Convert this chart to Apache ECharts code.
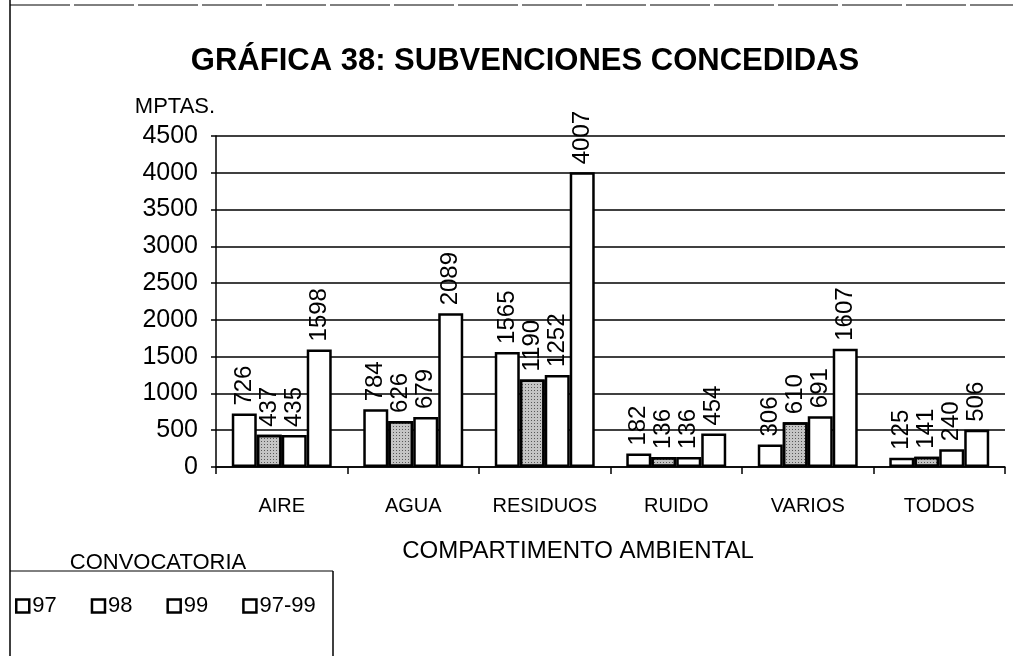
<!DOCTYPE html>
<html>
<head>
<meta charset="utf-8">
<script src="https://cdn.jsdelivr.net/npm/echarts@6/dist/echarts.min.js"></script>
<style>
  html, body { margin: 0; padding: 0; background: #fff; }
  #chart { width: 1013px; height: 656px; }
</style>
</head>
<body>
<div id="chart"></div>
<script>
// Categories (environmental compartment) and the grant totals per call, in MPTAS.
const categories = ['AIRE', 'AGUA', 'RESIDUOS', 'RUIDO', 'VARIOS', 'TODOS'];
const seriesNames = ['97', '98', '99', '97-99'];
const values97 = [726, 784, 1565, 182, 306, 125];
const values98 = [437, 626, 1190, 136, 610, 141];
const values99 = [435, 679, 1252, 136, 691, 240];
const values9799 = [1598, 2089, 4007, 454, 1607, 506];
const yTicks = { min: 0, max: 4500, interval: 500 };

const FONT = '"Liberation Sans", Arial, sans-serif';

const seriesData = [values97, values98, values99, values9799];

function makeSeries(name, data, idx) {
  const itemStyle = {
    color: '#ffffff',
    borderColor: '#000000',
    borderWidth: 2.5
  };
  if (idx === 1) {
    // stippled fill for the 98 call
    itemStyle.color = '#c4c4c4';
    itemStyle.decal = {
      symbol: 'rect',
      symbolSize: 1,
      dashArrayX: [1, 2],
      dashArrayY: [1, 2],
      color: 'rgba(0,0,0,0.55)'
    };
  }
  return {
    name: name,
    type: 'bar',
    data: data,
    barGap: '0%',
    barCategoryGap: '24%',
    itemStyle: itemStyle,
    label: {
      show: true,
      position: 'top',
      rotate: 90,
      align: 'left',
      verticalAlign: 'middle',
      distance: 8,
      color: '#000',
      fontFamily: FONT,
      fontSize: 24
    }
  };
}

const chart = echarts.init(document.getElementById('chart'), null, { renderer: 'canvas' });

chart.setOption({
  backgroundColor: '#ffffff',
  animation: false,
  title: {
    text: 'GRÁFICA 38: SUBVENCIONES CONCEDIDAS',
    left: 520,
    textAlign: 'center',
    top: 41,
    textStyle: { fontFamily: FONT, fontWeight: 'bold', fontSize: 31, color: '#000' }
  },
  grid: { left: 216, right: 8, top: 136, bottom: 189 },
  legend: {
    left: 10,
    top: 590,
    itemWidth: 13,
    itemHeight: 13,
    itemGap: 34,
    icon: 'rect',
    textStyle: { fontFamily: FONT, fontSize: 22, color: '#000', padding: [0, 0, 0, -2] },
    data: seriesNames.map(n => ({
      name: n,
      itemStyle: { color: '#fff', borderColor: '#000', borderWidth: 2.5, decal: 'none' }
    }))
  },
  xAxis: {
    type: 'category',
    data: categories,
    axisLine: { lineStyle: { color: '#000', width: 1.5 } },
    axisTick: { show: true, length: 7, lineStyle: { color: '#000', width: 1.5 } },
    axisLabel: { interval: 0, fontFamily: FONT, fontSize: 20, color: '#000', margin: 29 }
  },
  yAxis: {
    type: 'value',
    min: yTicks.min,
    max: yTicks.max,
    interval: yTicks.interval,
    name: 'MPTAS.',
    nameLocation: 'end',
    nameGap: 18,
    nameTextStyle: { fontFamily: FONT, fontSize: 22, color: '#000', align: 'center', padding: [0, 0, 0, -82] },
    axisLine: { show: true, lineStyle: { color: '#000', width: 1.5 } },
    axisTick: { show: true, length: 5, lineStyle: { color: '#000', width: 1.5 } },
    axisLabel: { fontFamily: FONT, fontSize: 25, color: '#000', margin: 18, formatter: v => String(v) },
    splitLine: { lineStyle: { color: '#000', width: 1.5 } }
  },
  graphic: [
    // outer frame: left and top edges
    { type: 'line', shape: { x1: 10, y1: 0, x2: 10, y2: 656 }, style: { stroke: '#000', lineWidth: 1.5 } },
    { type: 'line', shape: { x1: 10, y1: 5, x2: 1013, y2: 5 }, style: { stroke: '#000', lineWidth: 1, lineDash: [60, 4] } },
    // x-axis title
    {
      type: 'text', x: 578, y: 551,
      style: { text: 'COMPARTIMENTO AMBIENTAL', fontFamily: FONT, fontSize: 24, fill: '#000', align: 'center', verticalAlign: 'middle' }
    },
    // legend box
    { type: 'line', shape: { x1: 10, y1: 571, x2: 333, y2: 571 }, style: { stroke: '#000', lineWidth: 1 } },
    { type: 'line', shape: { x1: 333, y1: 571, x2: 333, y2: 656 }, style: { stroke: '#000', lineWidth: 1.5 } },
    {
      type: 'text', x: 158, y: 563,
      style: { text: 'CONVOCATORIA', fontFamily: FONT, fontSize: 22, fill: '#000', align: 'center', verticalAlign: 'middle' }
    }
  ],
  series: seriesNames.map((n, i) => makeSeries(n, seriesData[i], i))
});
</script>
</body>
</html>
